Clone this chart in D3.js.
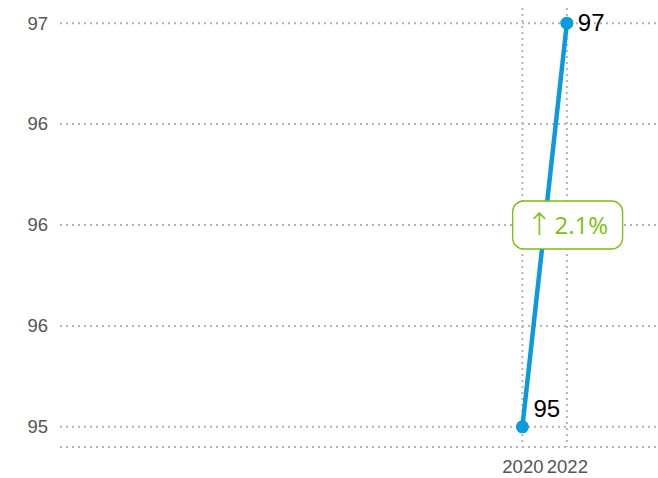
<!DOCTYPE html>
<html>
<head>
<meta charset="utf-8">
<script src="https://cdn.jsdelivr.net/npm/d3@7"></script>
<style>
  body { margin: 0; background: #fff; }
  svg { display: block; }
</style>
</head>
<body>
<div id="chart"></div>
<script>
var years = [2020, 2022];
var values = [95, 97];
var yTicks = [95, 95.5, 96, 96.5, 97];
var yTickLabels = ["95", "96", "96", "96", "97"];
var changeLabel = "2.1%";

var width = 658;
var height = 478;
var margin = {top: 8, right: 0, bottom: 31, left: 60};

var x = d3.scaleLinear()
    .domain([1999.2, 2026.1])
    .range([margin.left, width - margin.right]);

var y = d3.scaleLinear()
    .domain([94.9, 97.075])
    .range([height - margin.bottom, margin.top]);

var svg = d3.select("#chart")
    .append("svg")
    .attr("width", width)
    .attr("height", height);

var gridColour = "#b3b3b3";

// horizontal grid
svg.append("g")
    .selectAll("line")
    .data(yTicks)
    .enter().append("line")
    .attr("x1", margin.left)
    .attr("x2", width)
    .attr("y1", function(d) { return y(d); })
    .attr("y2", function(d) { return y(d); })
    .attr("stroke", gridColour)
    .attr("stroke-width", 2)
    .attr("stroke-dasharray", "2,4");

// vertical grid
svg.append("g")
    .selectAll("line")
    .data(years)
    .enter().append("line")
    .attr("x1", function(d) { return x(d); })
    .attr("x2", function(d) { return x(d); })
    .attr("y1", margin.top)
    .attr("y2", height - margin.bottom)
    .attr("stroke", gridColour)
    .attr("stroke-width", 2)
    .attr("stroke-dasharray", "2,4");

// bottom axis line
svg.append("line")
    .attr("x1", margin.left)
    .attr("x2", width)
    .attr("y1", height - margin.bottom)
    .attr("y2", height - margin.bottom)
    .attr("stroke", gridColour)
    .attr("stroke-width", 2)
    .attr("stroke-dasharray", "2,4");

// y axis
var yAxis = d3.axisLeft(y)
    .tickValues(yTicks)
    .tickSize(0)
    .tickPadding(12)
    .tickFormat(function(d, i) { return yTickLabels[i]; });

svg.append("g")
    .attr("transform", "translate(" + margin.left + ",0)")
    .call(yAxis)
    .call(function(g) { g.select(".domain").remove(); })
    .selectAll("text")
    .attr("fill", "#555")
    .style("font-family", "Liberation Sans, Arial, sans-serif")
    .style("font-size", "18.5px");

// x axis
var xAxis = d3.axisBottom(x)
    .tickValues(years)
    .tickSize(0)
    .tickPadding(13)
    .tickFormat(d3.format("d"));

svg.append("g")
    .attr("transform", "translate(0," + (height - margin.bottom) + ")")
    .call(xAxis)
    .call(function(g) { g.select(".domain").remove(); })
    .selectAll("text")
    .attr("fill", "#555")
    .style("font-family", "Liberation Sans, Arial, sans-serif")
    .style("font-size", "18.5px");

var lineColour = "#0a9ade";
var pts = years.map(function(d, i) { return {year: d, value: values[i]}; });

svg.append("path")
    .datum(pts)
    .attr("fill", "none")
    .attr("stroke", lineColour)
    .attr("stroke-width", 4.5)
    .attr("d", d3.line()
        .x(function(d) { return x(d.year); })
        .y(function(d) { return y(d.value); }));

svg.selectAll(".pt")
    .data(pts)
    .enter().append("circle")
    .attr("class", "pt")
    .attr("cx", function(d) { return x(d.year); })
    .attr("cy", function(d) { return y(d.value); })
    .attr("r", 6.5)
    .attr("fill", lineColour);

svg.selectAll(".val")
    .data(pts)
    .enter().append("text")
    .attr("class", "val")
    .attr("x", function(d) { return x(d.year) + 11; })
    .attr("y", function(d) { return y(d.value) + (d.value === values[0] ? -10 : 8); })
    .attr("fill", "#000")
    .style("font-family", "Liberation Sans, Arial, sans-serif")
    .style("font-size", "24px")
    .text(function(d) { return d.value; });

// change annotation
var midX = x((years[0] + years[1]) / 2) + 23;
var midY = y((values[0] + values[1]) / 2);
var boxW = 110, boxH = 48;
var green = "#7cbf0d";

svg.append("rect")
    .attr("x", midX - boxW / 2)
    .attr("y", midY - boxH / 2)
    .attr("width", boxW)
    .attr("height", boxH)
    .attr("rx", 11)
    .attr("fill", "#fff")
    .attr("stroke", green)
    .attr("stroke-width", 1.3);

var label = svg.append("text")
    .attr("x", midX - boxW / 2 + 14)
    .attr("y", midY + 9)
    .attr("fill", green)
    .style("font-family", "Open Sans, Noto Sans, sans-serif")
    .style("font-size", "24px");

label.append("tspan")
    .style("font-family", "Noto Sans, DejaVu Sans, sans-serif")
    .style("font-weight", "300")
    .style("font-size", "31px")
    .attr("dy", 1)
    .text("\u2191");

label.append("tspan")
    .attr("dx", 2)
    .attr("dy", -1)
    .text(changeLabel);
</script>
</body>
</html>
